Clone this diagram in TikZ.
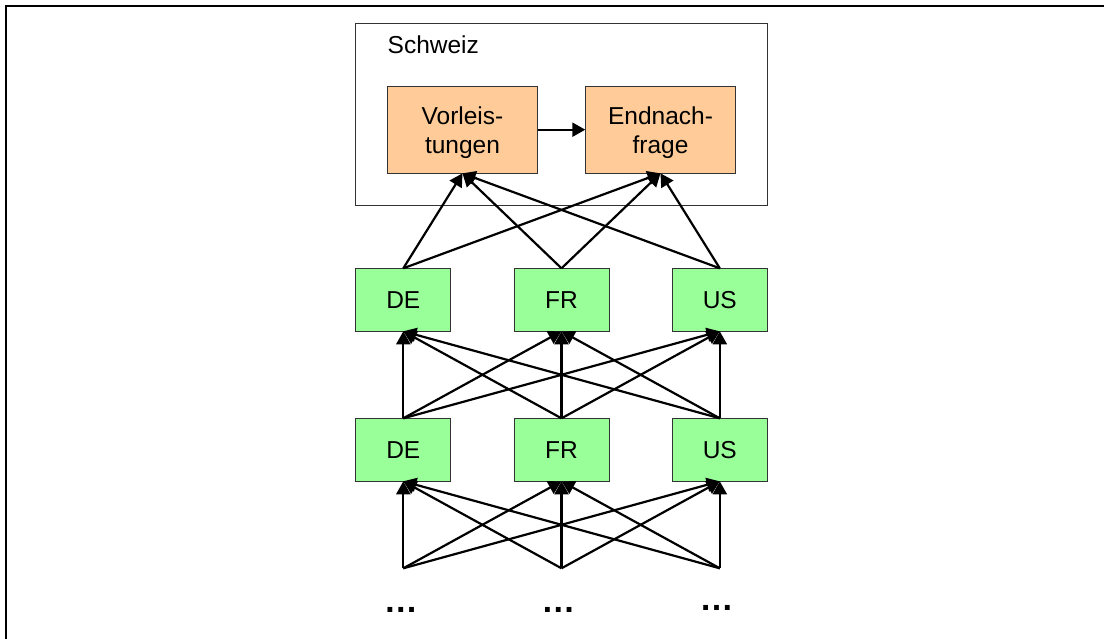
\documentclass[tikz,border=0pt]{standalone}
\usepackage{fontspec}
\setmainfont{Liberation Sans}
\usetikzlibrary{arrows.meta}

\definecolor{boxorange}{HTML}{FFCC99}
\definecolor{boxgreen}{HTML}{99FF99}
\definecolor{boxline}{HTML}{333333}

\tikzset{
  labelfont/.style={font=\fontsize{24.5}{28.3}\selectfont},
  basebox/.style={draw=boxline, line width=1pt, inner sep=0pt, outer sep=0pt,
    align=center, labelfont},
  sectorbox/.style={basebox, fill=boxorange, minimum width=150.4pt, minimum height=87.3pt},
  sectortext/.style={labelfont, align=center, inner sep=0pt, anchor=base},
  countrybox/.style={basebox, fill=boxgreen, minimum width=95pt, minimum height=63pt},
  flow/.style={line width=2.2pt, -{Triangle[length=13pt,width=14pt]}},
  ellip/.style={anchor=base, inner sep=0pt, font=\bfseries\fontsize{34}{40}\selectfont},
}

\begin{document}
\begin{tikzpicture}[x=1pt,y=-1pt]
\useasboundingbox (0,0) rectangle (1104,639);

% outer frame (top and left edges)
\draw[line width=2.4pt] (6.2,639) -- (6.2,6.2) -- (1104,6.2);

% domestic economy
\node[draw=boxline, line width=1pt, inner sep=0pt, outer sep=0pt,
  minimum width=411.3pt, minimum height=181.7pt] (ch) at (561.6,114.2) {};
\node[anchor=base west, inner sep=0pt, labelfont] (chlabel) at (387.5,54) {Schweiz};
\node[sectorbox] (vl) at (462.5,129.7) {};
\node[sectorbox] (en) at (660.5,129.7) {};
\node[sectortext] (vltext) at ([yshift=-23.6pt]vl.center) {Vorleis-\\tungen};
\node[sectortext] (entext) at ([yshift=-23.6pt]en.center) {Endnach-\\frage};
\draw[flow] (vl.east) -- (en.west);

% first foreign tier
\node[countrybox] (a1) at (403.3,299.8) {DE};
\node[countrybox] (a2) at (561.5,299.8) {FR};
\node[countrybox] (a3) at (719.8,299.8) {US};

% second foreign tier
\node[countrybox] (b1) at (403.3,449.8) {DE};
\node[countrybox] (b2) at (561.5,449.8) {FR};
\node[countrybox] (b3) at (719.8,449.8) {US};

% further tiers
\coordinate (c1) at (403.3,568.3);
\coordinate (c2) at (561.5,568.3);
\coordinate (c3) at (719.8,568.3);
\node[ellip] (d1) at (400.8,612) {…};
\node[ellip] (d2) at (558.3,612) {…};
\node[ellip] (d3) at (716.7,610) {…};

% deliveries into Switzerland
\foreach \s in {a1,a2,a3}
  \foreach \t in {vl,en}
    \draw[flow] (\s.north) -- (\t.south);

% deliveries between the foreign tiers
\foreach \s in {b1,b2,b3}
  \foreach \t in {a1,a2,a3}
    \draw[flow] (\s.north) -- (\t.south);

\foreach \s in {c1,c2,c3}
  \foreach \t in {b1,b2,b3}
    \draw[flow] (\s) -- (\t.south);
\end{tikzpicture}
\end{document}
